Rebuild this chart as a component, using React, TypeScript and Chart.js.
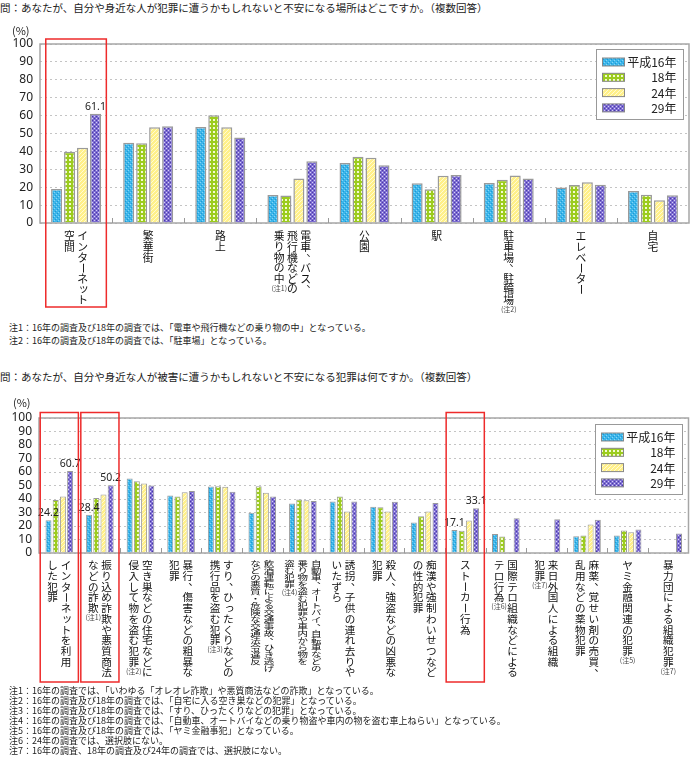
import React, { useEffect, useRef } from "react";
import { Chart, registerables } from "chart.js";
Chart.register(...registerables);

// ---------- data ----------
const seriesNames = ["平成16年", "18年", "24年", "29年"];

const placeLabels: string[][] = [
  ["インターネット", "空間"],
  ["繁華街"],
  ["路上"],
  ["電車、バス、", "飛行機などの", "乗り物の中"],
  ["公園"],
  ["駅"],
  ["駐車場、駐輪場"],
  ["エレベーター"],
  ["自宅"],
];
const placeNotes = ["", "", "", "(注1)", "", "", "(注2)", "", ""];
const placeH16 = [19.0, 44.9, 53.6, 15.6, 33.5, 22.2, 22.4, 19.9, 17.9];
const placeH18 = [39.8, 44.5, 60.2, 15.3, 37.0, 18.8, 24.2, 21.2, 15.8];
const placeH24 = [42.0, 53.5, 53.5, 24.8, 36.4, 26.4, 26.6, 22.7, 12.7];
const placeH29 = [61.1, 54.0, 47.7, 34.5, 32.2, 26.8, 24.8, 21.4, 15.5];
const placeHighlighted = [0];
const placeValueLabels: [number, number][] = [[0, 3]];

const crimeLabels: string[][] = [
  ["インターネットを利用", "した犯罪"],
  ["振り込め詐欺や悪質商法", "などの詐欺"],
  ["空き巣などの住宅などに", "侵入して物を盗む犯罪"],
  ["暴行、傷害などの粗暴な", "犯罪"],
  ["すり、ひったくりなどの", "携行品を盗む犯罪"],
  ["飲酒運転による交通事故、ひき逃げ", "などの悪質・危険な交通法令違反"],
  ["自動車、オートバイ、自転車などの", "乗り物を盗む犯罪や車内から物を", "盗む犯罪"],
  ["誘拐、子供の連れ去りや", "いたずら"],
  ["殺人、強盗などの凶悪な", "犯罪"],
  ["痴漢や強制わいせつなど", "の性的犯罪"],
  ["ストーカー行為"],
  ["国際テロ組織などによる", "テロ行為"],
  ["来日外国人による組織", "犯罪"],
  ["麻薬、覚せい剤の売買、", "乱用などの薬物犯罪"],
  ["ヤミ金融関連の犯罪"],
  ["暴力団による組織犯罪"],
];
const crimeNotes = ["", "(注1)", "(注2)", "", "(注3)", "", "(注4)", "", "", "", "", "(注6)", "(注7)", "", "(注5)", "(注7)"];
const crimeH16 = [24.2, 28.4, 55.1, 42.6, 49.2, 29.8, 36.6, 38.2, 34.2, 22.6, 17.1, 14.0, null, 12.5, 12.9, null];
const crimeH18 = [39.3, 40.8, 53.1, 41.8, 49.5, 49.5, 39.6, 41.9, 33.9, 27.3, 16.5, 12.3, null, 13.0, 16.7, null];
const crimeH24 = [41.8, 43.3, 51.4, 45.0, 49.0, 44.7, 39.1, 30.8, 30.8, 30.8, 24.1, null, null, 21.2, 15.3, null];
const crimeH29 = [60.7, 50.2, 50.0, 46.0, 45.3, 41.9, 38.6, 38.2, 37.9, 37.1, 33.1, 25.8, 25.0, 24.6, 17.5, 14.5];
const crimeHighlighted = [0, 1, 10];
const crimeValueLabels: [number, number][] = [[0, 0], [0, 3], [1, 0], [1, 3], [10, 0], [10, 3]];

const yTickStep = 10;
const yMax = 100;

// ---------- styling helpers ----------
const JP = '"Noto Sans CJK JP", "Noto Sans", sans-serif';

function makePattern(kind: number): CanvasPattern | string {
  const c = document.createElement("canvas");
  c.width = 4;
  c.height = 4;
  const g = c.getContext("2d")!;
  const px = (x: number, y: number, col: string, w = 1, h = 1) => {
    g.fillStyle = col;
    g.fillRect(x, y, w, h);
  };
  if (kind === 0) {
    px(0, 0, "#3cb6ea", 4, 4);
    px(0, 0, "#86d4f6");
    px(2, 2, "#86d4f6");
    px(1, 3, "#1f98d4");
    px(3, 1, "#1f98d4");
  } else if (kind === 1) {
    px(0, 0, "#9ccc1e", 4, 4);
    px(1, 1, "#f4fad0", 2, 2);
  } else if (kind === 2) {
    px(0, 0, "#fff08a", 4, 4);
    px(0, 3, "#fffbd4");
    px(1, 2, "#fffbd4");
    px(2, 1, "#fffbd4");
    px(3, 0, "#fffbd4");
  } else {
    px(0, 0, "#7d6dd2", 4, 4);
    px(0, 0, "#d6cff7");
    px(2, 2, "#d6cff7");
    px(2, 0, "#4a3aa6");
    px(0, 2, "#4a3aa6");
  }
  return g.createPattern(c, "repeat") || "#888";
}

function drawVertical(
  ctx: CanvasRenderingContext2D,
  text: string,
  x: number,
  y0: number,
  step: number,
  fontPx: number,
  scaleY: number
): number {
  ctx.save();
  ctx.font = `${fontPx}px ${JP}`;
  ctx.textAlign = "center";
  ctx.textBaseline = "middle";
  ctx.fillStyle = "#111";
  let y = y0 + step / 2;
  for (const ch of Array.from(text)) {
    ctx.save();
    ctx.translate(x, y);
    ctx.scale(1, scaleY);
    if ("ー－".includes(ch)) {
      ctx.rotate(Math.PI / 2);
      ctx.fillText(ch, 0, 0);
    } else if ("、。".includes(ch)) {
      ctx.fillText(ch, fontPx * 0.55, -fontPx * 0.55);
    } else if ("ッャュョァィゥェォっゃゅょ".includes(ch)) {
      ctx.fillText(ch, fontPx * 0.1, -fontPx * 0.1);
    } else {
      ctx.fillText(ch, 0, 0);
    }
    ctx.restore();
    y += step;
  }
  ctx.restore();
  return y0 + step * Array.from(text).length;
}

type Cfg = {
  labels: string[][];
  notes: string[];
  series: (number | null)[][];
  highlight: number[];
  valueLabels: [number, number][];
  padTop: number;
  padRight: number;
  yWidth: number;
  xHeight: number;
  catPct: number;
  barPct: number;
  borderWidth: number;
  labelGap: number;
  colSpacing: number;
  step: number;
  fontPx: number;
  compressed: number[];
  boxHalf: number;
  boxTopGap: number;
  boxBottom: number;
  legendRightGap: number;
  legendTopGap: number;
};

function overlayPlugin(cfg: Cfg, patterns: (CanvasPattern | string)[]) {
  return {
    id: "overlay",
    afterDraw(chart: any) {
      const ctx: CanvasRenderingContext2D = chart.ctx;
      const ca = chart.chartArea;
      const xs = chart.scales.x;
      const n = cfg.labels.length;
      const centers = cfg.labels.map((_, i) => xs.getPixelForValue(i));
      const catW = (ca.right - ca.left) / n;

      ctx.save();
      // frame
      ctx.strokeStyle = "#a6a6a6";
      ctx.lineWidth = 1.5;
      ctx.strokeRect(ca.left, ca.top, ca.right - ca.left, ca.bottom - ca.top);
      // category separators
      ctx.strokeStyle = "#999";
      ctx.lineWidth = 1;
      for (let i = 0; i < n - 1; i++) {
        const x = Math.round((centers[i] + centers[i + 1]) / 2) + 0.5;
        ctx.beginPath();
        ctx.moveTo(x, ca.bottom);
        ctx.lineTo(x, ca.bottom - 5);
        ctx.stroke();
      }

      // value labels
      ctx.fillStyle = "#222";
      ctx.font = `10.5px "Noto Sans", sans-serif`;
      ctx.textAlign = "center";
      ctx.textBaseline = "alphabetic";
      cfg.valueLabels.forEach(([ci, si]) => {
        const el = chart.getDatasetMeta(si).data[ci];
        const v = cfg.series[si][ci];
        if (el && v != null) ctx.fillText(v.toFixed(1), el.x, el.y - 4);
      });

      // category labels (vertical)
      cfg.labels.forEach((cols, i) => {
        const comp = cfg.compressed.includes(i);
        const k = cols.length;
        let lastEnd = 0;
        let lastX = 0;
        cols.forEach((col, j) => {
          const x = centers[i] + ((k - 1) / 2 - j) * cfg.colSpacing;
          lastX = x;
          lastEnd = drawVertical(
            ctx,
            col,
            x,
            ca.bottom + cfg.labelGap,
            comp ? 7.0 : cfg.step,
            comp ? 10.5 : cfg.fontPx,
            comp ? 0.66 : 1
          );
        });
        if (cfg.notes[i]) {
          ctx.font = `7px ${JP}`;
          ctx.fillStyle = "#444";
          ctx.textAlign = "center";
          ctx.textBaseline = "middle";
          ctx.fillText(cfg.notes[i], lastX, lastEnd + 4);
        }
      });

      // highlight boxes
      ctx.strokeStyle = "#ee2b2b";
      ctx.lineWidth = 1.5;
      cfg.highlight.forEach((i) => {
        const x0 = centers[i] - catW * cfg.boxHalf;
        const x1 = centers[i] + catW * cfg.boxHalf;
        ctx.strokeRect(x0, ca.top - cfg.boxTopGap, x1 - x0, ca.bottom + cfg.boxBottom - (ca.top - cfg.boxTopGap));
      });

      // legend
      const bw = 87;
      const bh = 70;
      const bx = Math.round(ca.right - cfg.legendRightGap - bw) + 0.5;
      const by = Math.round(ca.top + cfg.legendTopGap) + 0.5;
      ctx.fillStyle = "#fff";
      ctx.fillRect(bx, by, bw, bh);
      ctx.strokeStyle = "#999";
      ctx.lineWidth = 1;
      ctx.strokeRect(bx, by, bw, bh);
      chart.data.datasets.forEach((ds: any, i: number) => {
        const cy = by + 12.5 + i * 15.3;
        ctx.fillStyle = patterns[i] as any;
        ctx.fillRect(bx + 6, cy - 4, 22, 8);
        ctx.strokeStyle = "#888";
        ctx.strokeRect(bx + 6, cy - 4, 22, 8);
        ctx.fillStyle = "#222";
        ctx.font = `12px ${JP}`;
        ctx.textAlign = "right";
        ctx.textBaseline = "middle";
        ctx.fillText(ds.label, bx + bw - 7, cy + 0.5);
      });
      ctx.restore();
    },
  };
}

function buildChart(canvas: HTMLCanvasElement, cfg: Cfg) {
  const patterns = [0, 1, 2, 3].map(makePattern);
  return new Chart(canvas, {
    type: "bar",
    data: {
      labels: cfg.labels.map((c) => c.join("")),
      datasets: cfg.series.map((d, i) => ({
        label: seriesNames[i],
        data: d as any,
        backgroundColor: patterns[i] as any,
        borderColor: "#9a9a9a",
        borderWidth: cfg.borderWidth,
        categoryPercentage: cfg.catPct,
        barPercentage: cfg.barPct,
      })),
    },
    options: {
      animation: false,
      responsive: false,
      maintainAspectRatio: false,
      layout: { padding: { top: cfg.padTop, right: cfg.padRight, left: 0, bottom: 0 } },
      plugins: { legend: { display: false }, tooltip: { enabled: false }, title: { display: false } },
      scales: {
        x: {
          grid: { display: false },
          border: { display: false },
          ticks: { display: false },
          afterFit: (s: any) => {
            s.height = cfg.xHeight;
          },
        },
        y: {
          min: 0,
          max: yMax,
          ticks: {
            stepSize: yTickStep,
            autoSkip: false,
            padding: 7,
            color: "#222",
            font: { size: 12, family: '"Noto Sans", sans-serif' },
          },
          grid: { color: "#c4c4c4", drawTicks: false, lineWidth: 1 },
          border: { display: false, dash: [2, 3] },
          afterFit: (s: any) => {
            s.width = cfg.yWidth;
          },
        },
      },
    } as any,
    plugins: [overlayPlugin(cfg, patterns) as any],
  });
}

const topCfg: Cfg = {
  labels: placeLabels,
  notes: placeNotes,
  series: [placeH16, placeH18, placeH24, placeH29],
  highlight: placeHighlighted,
  valueLabels: placeValueLabels,
  padTop: 26,
  padRight: 1,
  yWidth: 40,
  xHeight: 95,
  catPct: 0.72,
  barPct: 0.85,
  borderWidth: 1.5,
  labelGap: 8,
  colSpacing: 13.2,
  step: 10.6,
  fontPx: 10.8,
  compressed: [],
  boxHalf: 0.42,
  boxTopGap: 5,
  boxBottom: 84,
  legendRightGap: 6,
  legendTopGap: 5,
};

const bottomCfg: Cfg = {
  labels: crimeLabels,
  notes: crimeNotes,
  series: [crimeH16, crimeH18, crimeH24, crimeH29],
  highlight: crimeHighlighted,
  valueLabels: crimeValueLabels,
  padTop: 33,
  padRight: 1.5,
  yWidth: 39,
  xHeight: 132,
  catPct: 0.71,
  barPct: 0.83,
  borderWidth: 1,
  labelGap: 7,
  colSpacing: 13.4,
  step: 10.7,
  fontPx: 10.6,
  compressed: [5, 6],
  boxHalf: 0.47,
  boxTopGap: 5.5,
  boxBottom: 129,
  legendRightGap: 6.5,
  legendTopGap: 6,
};

const topNotes = [
  "注1：16年の調査及び18年の調査では、「電車や飛行機などの乗り物の中」となっている。",
  "注2：16年の調査及び18年の調査では、「駐車場」となっている。",
];
const bottomNotes = [
  "注1：16年の調査では、「いわゆる「オレオレ詐欺」や悪質商法などの詐欺」となっている。",
  "注2：16年の調査及び18年の調査では、「自宅に入る空き巣などの犯罪」となっている。",
  "注3：16年の調査及び18年の調査では、「すり、ひったくりなどの犯罪」となっている。",
  "注4：16年の調査及び18年の調査では、「自動車、オートバイなどの乗り物盗や車内の物を盗む車上ねらい」となっている。",
  "注5：16年の調査及び18年の調査では、「ヤミ金融事犯」となっている。",
  "注6：24年の調査では、選択肢にない。",
  "注7：16年の調査、18年の調査及び24年の調査では、選択肢にない。",
];

export default function App() {
  const refA = useRef<HTMLCanvasElement>(null);
  const refB = useRef<HTMLCanvasElement>(null);
  useEffect(() => {
    const a = buildChart(refA.current!, topCfg);
    const b = buildChart(refB.current!, bottomCfg);
    return () => {
      a.destroy();
      b.destroy();
    };
  }, []);

  const abs = (top: number, left: number, extra: React.CSSProperties = {}): React.CSSProperties => ({
    position: "absolute",
    top,
    left,
    whiteSpace: "nowrap",
    ...extra,
  });

  return (
    <div
      style={{
        position: "absolute",
        left: 0,
        top: 0,
        width: 690,
        height: 760,
        background: "#fff",
        fontFamily: JP,
        color: "#222",
        overflow: "hidden",
      }}
    >
      <canvas ref={refA} width={690} height={300} style={abs(18, 0, { display: "block", width: 690, height: 300 })} />
      <canvas ref={refB} width={690} height={300} style={abs(385, 0, { display: "block", width: 690, height: 300 })} />

      <div style={abs(0, 0, { fontSize: 10.5, lineHeight: "15px" })}>
        問：あなたが、自分や身近な人が犯罪に遭うかもしれないと不安になる場所はどこですか。（複数回答）
      </div>
      <div style={abs(23, 12, { fontSize: 11, lineHeight: "14px" })}>(%)</div>
      <div style={abs(320.5, 9, { fontSize: 9, lineHeight: "13px" })}>
        {topNotes.map((t) => (
          <div key={t}>{t}</div>
        ))}
      </div>

      <div style={abs(369, 0, { fontSize: 10.5, lineHeight: "15px" })}>
        問：あなたが、自分や身近な人が被害に遭うかもしれないと不安になる犯罪は何ですか。（複数回答）
      </div>
      <div style={abs(395, 13, { fontSize: 11, lineHeight: "14px" })}>(%)</div>
      <div style={abs(685.5, 9, { fontSize: 9, lineHeight: "10px" })}>
        {bottomNotes.map((t) => (
          <div key={t}>{t}</div>
        ))}
      </div>
    </div>
  );
}
